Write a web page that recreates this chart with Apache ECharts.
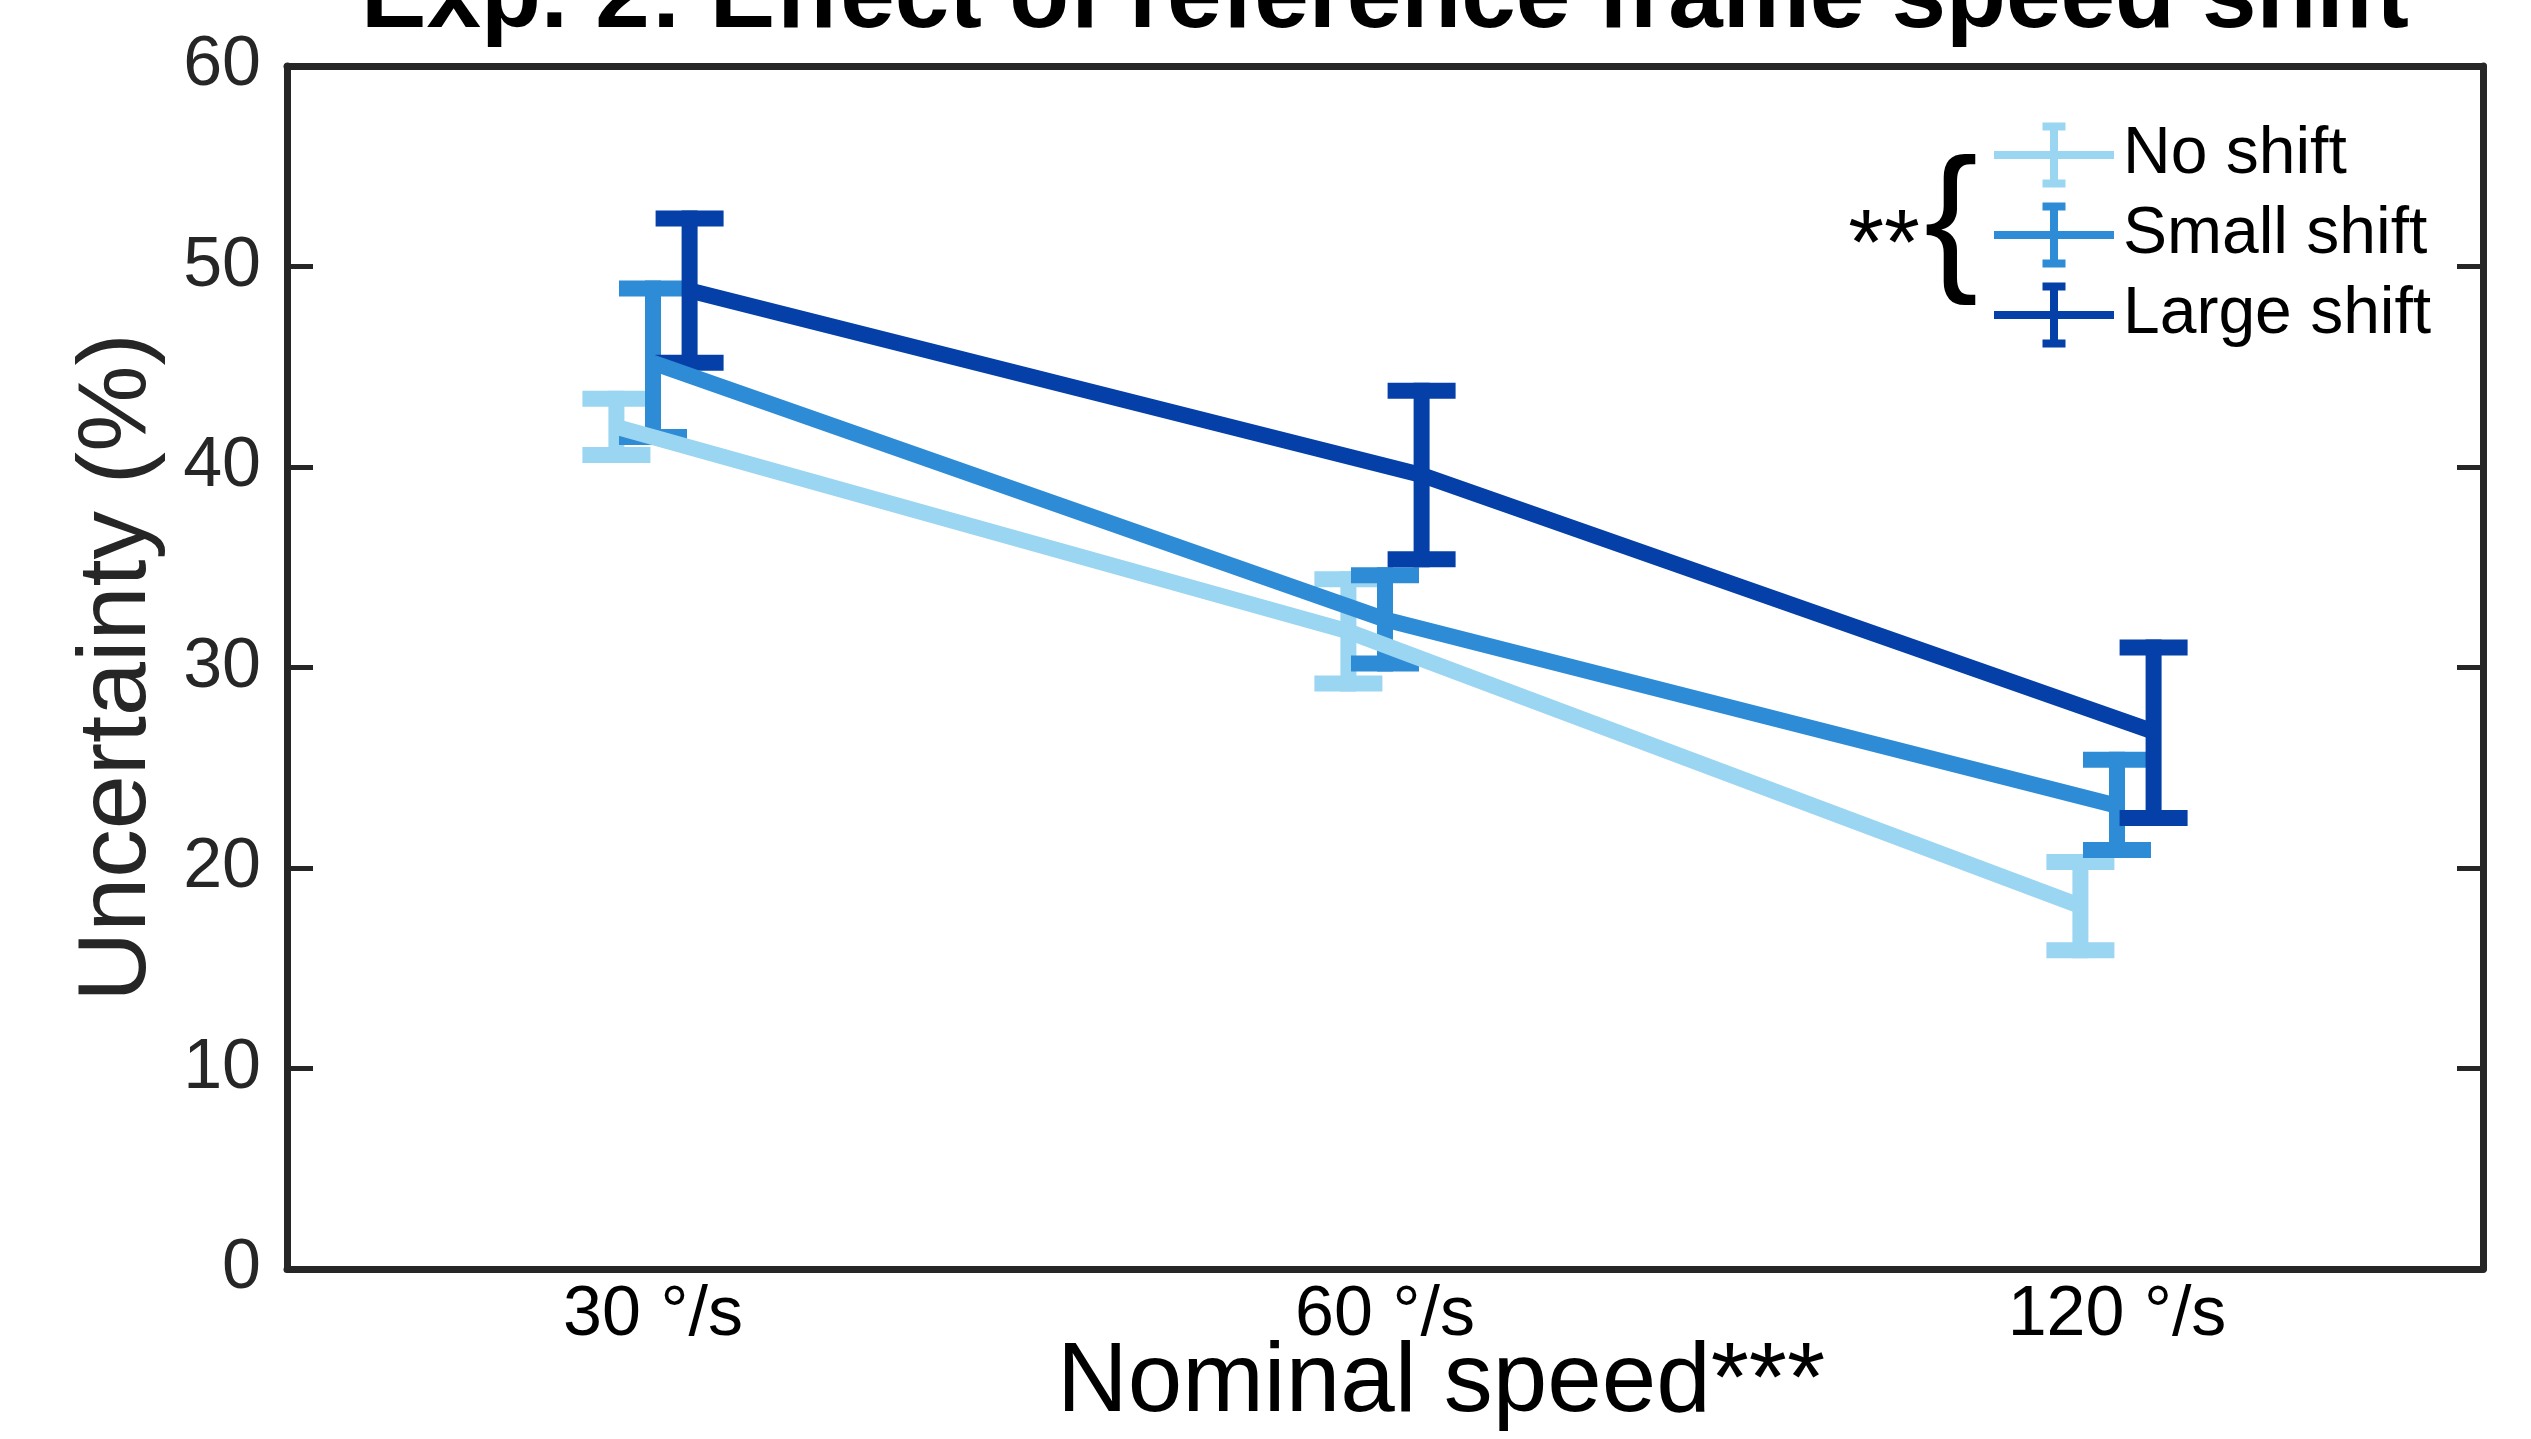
<!DOCTYPE html>
<html>
<head>
<meta charset="utf-8">
<script src="https://cdn.jsdelivr.net/npm/echarts@6/dist/echarts.min.js"></script>
<style>
  html, body { margin: 0; padding: 0; background: #fff; }
  #chart { width: 2531px; height: 1439px; }
</style>
</head>
<body>
<div id="chart"></div>
<script>
// categories and groups
const speeds = ['30 °/s', '60 °/s', '120 °/s']
const groupNames = ['No shift', 'Small shift', 'Large shift']

// uncertainty (%) : mean and error bar limits
const noShiftMean = [42.0, 31.8, 18.1]
const noShiftLow = [40.6, 29.2, 15.9]
const noShiftHigh = [43.4, 34.4, 20.3]

const smallShiftMean = [45.2, 32.4, 23.1]
const smallShiftLow = [41.5, 30.2, 20.9]
const smallShiftHigh = [48.9, 34.6, 25.4]

const largeShiftMean = [48.8, 39.6, 26.8]
const largeShiftLow = [45.2, 35.4, 22.5]
const largeShiftHigh = [52.4, 43.8, 31.0]

const yMin = 0
const yMax = 60
const yStep = 10

// styling
const fontFamily = '"Liberation Sans", Arial, sans-serif'
const axisColor = '#262626'
const colors = ['#9AD5F2', '#2E8CD6', '#053FA8']
const groupOffset = [-0.05, 0, 0.05] // horizontal dodge in category units
const lineWidth = 16
const capWidth = 68

const groups = [
  { mean: noShiftMean, low: noShiftLow, high: noShiftHigh },
  { mean: smallShiftMean, low: smallShiftLow, high: smallShiftHigh },
  { mean: largeShiftMean, low: largeShiftLow, high: largeShiftHigh },
]

function renderErrorBar(params, api) {
  const x = api.value(0)
  const lo = api.coord([x, api.value(1)])
  const hi = api.coord([x, api.value(2)])
  const half = capWidth / 2
  const style = { stroke: api.visual('color'), lineWidth: lineWidth, lineCap: 'butt' }
  return {
    type: 'group',
    children: [
      { type: 'line', shape: { x1: hi[0], y1: hi[1] - lineWidth / 2, x2: lo[0], y2: lo[1] + lineWidth / 2 }, style },
      { type: 'line', shape: { x1: hi[0] - half, y1: hi[1], x2: hi[0] + half, y2: hi[1] }, style },
      { type: 'line', shape: { x1: lo[0] - half, y1: lo[1], x2: lo[0] + half, y2: lo[1] }, style },
    ],
  }
}

const series = []
groups.forEach((g, k) => {
  series.push({
    name: groupNames[k],
    type: 'line',
    xAxisIndex: 2,
    symbol: 'none',
    silent: true,
    itemStyle: { color: colors[k] },
    lineStyle: { color: colors[k], width: lineWidth, cap: 'butt' },
    data: g.mean.map((v, i) => [i + groupOffset[k], v]),
  })
  series.push({
    name: groupNames[k] + ' error',
    type: 'custom',
    xAxisIndex: 2,
    silent: true,
    itemStyle: { color: colors[k] },
    renderItem: renderErrorBar,
    data: g.mean.map((v, i) => [i + groupOffset[k], g.low[i], g.high[i]]),
  })
})

const legendIcon = 'path://M0 28.5H120V36.5H0Z M56 0H64V65H56Z M48.5 0H71.5V8H48.5Z M48.5 57H71.5V65H48.5Z'

const tickStyle = { color: axisColor, width: 5 }
const lineStyleAxis = { color: axisColor, width: 7 }

const chart = echarts.init(document.getElementById('chart'))
chart.setOption({
  animation: false,
  backgroundColor: '#fff',
  textStyle: { fontFamily },
  grid: { left: 287, right: 48, top: 66, bottom: 170, containLabel: false, outerBoundsMode: 'none' },
  legend: {
    data: groupNames,
    orient: 'vertical',
    left: 1989,
    top: 117,
    icon: legendIcon,
    itemWidth: 120,
    itemHeight: 65,
    itemGap: 14,
    itemStyle: { borderWidth: 0 },
    selectedMode: false,
    textStyle: { fontSize: 66, color: '#000', fontFamily, padding: [0, 0, 0, 4] },
  },
  xAxis: [
    {
      type: 'category',
      data: speeds,
      position: 'bottom',
      boundaryGap: true,
      name: 'Nominal speed***',
      nameLocation: 'middle',
      nameGap: 66,
      nameMoveOverlap: false,
      nameTextStyle: { fontSize: 98, color: '#000', fontFamily, padding: [0, 0, 0, 112] },
      axisLine: { onZero: false, lineStyle: lineStyleAxis },
      axisTick: { inside: true, alignWithLabel: true, length: 26, lineStyle: tickStyle },
      axisLabel: { fontSize: 70, color: '#000', margin: 12, fontFamily },
      splitLine: { show: false },
    },
    {
      type: 'category',
      data: speeds,
      position: 'top',
      boundaryGap: true,
      axisLine: { onZero: false, lineStyle: lineStyleAxis },
      axisTick: { inside: true, alignWithLabel: true, length: 26, lineStyle: tickStyle },
      axisLabel: { show: false },
      splitLine: { show: false },
    },
    {
      type: 'value',
      min: -0.5,
      max: 2.5,
      show: false,
    },
  ],
  yAxis: [
    {
      type: 'value',
      position: 'left',
      min: yMin,
      max: yMax,
      interval: yStep,
      name: 'Uncertainty (%)',
      nameLocation: 'middle',
      nameGap: 120,
      nameMoveOverlap: false,
      nameTextStyle: { fontSize: 97, color: axisColor, fontFamily },
      axisLine: { show: true, onZero: false, lineStyle: lineStyleAxis },
      axisTick: { show: true, inside: true, length: 26, lineStyle: tickStyle },
      axisLabel: { fontSize: 70, color: axisColor, margin: 26, fontFamily },
      splitLine: { show: false },
    },
    {
      type: 'value',
      position: 'right',
      min: yMin,
      max: yMax,
      interval: yStep,
      axisLine: { show: true, onZero: false, lineStyle: lineStyleAxis },
      axisTick: { show: true, inside: true, length: 26, lineStyle: tickStyle },
      axisLabel: { show: false },
      splitLine: { show: false },
    },
  ],
  graphic: [
    {
      type: 'text',
      x: 1385,
      y: -49,
      style: {
        text: 'Exp. 2: Effect of reference frame speed shift',
        font: 'bold 98px ' + fontFamily,
        fill: '#000',
        textAlign: 'center',
        textVerticalAlign: 'top',
      },
    },
    {
      type: 'text',
      x: 1951,
      y: 226,
      style: {
        text: '{',
        font: '162px ' + fontFamily,
        fill: '#000',
        textAlign: 'center',
        textVerticalAlign: 'middle',
      },
    },
    {
      type: 'text',
      x: 1884,
      y: 249,
      style: {
        text: '**',
        font: '92px ' + fontFamily,
        fill: '#000',
        textAlign: 'center',
        textVerticalAlign: 'middle',
      },
    },
  ],
  series,
})
</script>
</body>
</html>
